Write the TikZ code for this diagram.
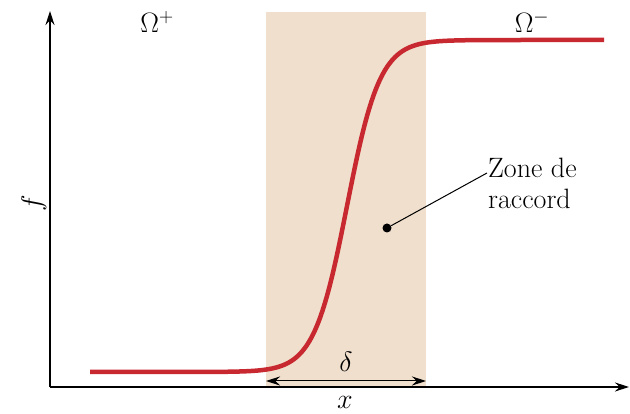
\RequirePackage{fix-cm}
\documentclass[tikz,border=0pt]{standalone}
\usepackage{fontspec}
\usepackage{tikz}
\usetikzlibrary{arrows.meta,positioning}
\definecolor{ZoneSand}{HTML}{EFDFCC}
\definecolor{CurveRed}{HTML}{C8282F}

\begin{document}
\begin{tikzpicture}[x=1pt,y=1pt,>={Stealth[length=14pt,width=9pt]}]
\tikzset{
  axis/.style={line width=1.2pt,->},
  lbl/.style={font=\fontsize{28}{31}\selectfont,inner sep=1pt},
  courbe/.style={CurveRed,line width=4.5pt}
}
\useasboundingbox (0,0) rectangle (630,414);
\fill[ZoneSand] (266,27) rectangle (426,402);

\coordinate (o) at (50,27);
\coordinate (ytop) at (50,403);
\coordinate (xend) at (629,27);
\draw[axis] (o)--(ytop);
\draw[axis] (o)--(xend);

\draw[courbe] plot[domain=90:604,samples=200,smooth] (\x,{42+332*(1+tanh((\x-347)/33))/2});

\node[lbl,anchor=base] (op) at (157,381) {$\Omega^{+}$};
\node[lbl,anchor=base] (om) at (532,381) {$\Omega^{-}$};
\node[lbl,rotate=90] (fl) at (34,211) {$f$};
\node[lbl] (xl) at (345,12) {$x$};

\coordinate (da) at (266,33);
\coordinate (db) at (426,33);
\draw[<->,line width=1pt] (da)--(db) node[lbl,midway,above=8pt] (dl) {$\delta$};

\node[circle,fill=black,inner sep=0pt,minimum size=9pt] (dot) at (387,186) {};
\node[lbl,align=left,anchor=north west] (zone) at (487,257) {Zone de\\raccord};
\draw[line width=1pt] (dot)--([yshift=-16pt]zone.north west);
\end{tikzpicture}
\end{document}
